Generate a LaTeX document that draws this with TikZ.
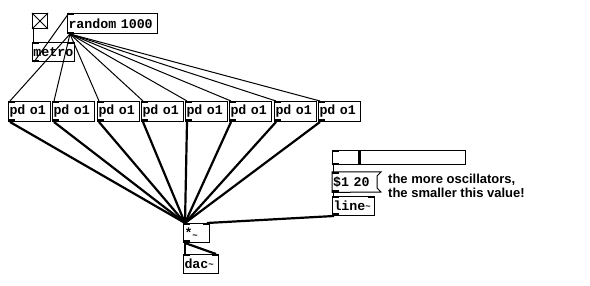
\documentclass[tikz,border=0pt]{standalone}
\usepackage{fontspec}
\newfontfamily\pdfont{Liberation Mono}
\newfontfamily\cmtfont{Liberation Sans}
\begin{document}
\begin{tikzpicture}[x=1pt, y=-1pt,
  obj/.style={draw, line width=1pt, rectangle, anchor=north west,
    minimum height=20pt, inner xsep=1pt, inner ysep=0pt, align=left,
    font=\pdfont\bfseries\fontsize{13.3}{13.3}\selectfont},
  ctl/.style={line width=1pt},
  sig/.style={line width=2.2pt},
  port/.style={fill=black}]
\useasboundingbox[fill=white] (0,0) rectangle (590,286);

% toggle
\node[draw, line width=1pt, minimum width=15pt, minimum height=15pt,
  anchor=north west, inner sep=0pt] (tg) at (32,13) {};
\draw[line width=0.8pt] (tg.north west) -- (tg.south east)
  (tg.north east) -- (tg.south west);

% control objects
\node[obj, text width=88pt] (rnd) at (67,13) {random 1000};
\node[obj, text width=40pt, minimum height=19pt] (metro) at (32,42) {metro};

% oscillator subpatches
\foreach \i/\x in {1/8,2/52,3/97,4/141,5/185,6/229,7/274,8/318}
  \node[obj, text width=40pt] (p\i) at (\x,101) {pd o1};

% signal chain
\node[obj, text width=24pt, minimum height=19pt] (mul) at (183,223) {*\raisebox{-1pt}{\fontsize{9}{9}\selectfont\textasciitilde}};
\node[obj, text width=33pt, minimum height=19pt] (dac) at (183,254) {dac\raisebox{1pt}{\fontsize{9}{9}\selectfont\textasciitilde}};

% horizontal slider
\node[draw, line width=1pt, minimum width=133pt, minimum height=14pt,
  anchor=north west, inner sep=0pt] (hsl) at (332,150) {};
\draw[line width=3pt] ([xshift=27pt]hsl.north west) -- ([xshift=27pt]hsl.south west);

% message box with flag edge
\node[anchor=north west, minimum width=45pt, minimum height=20pt,
  inner xsep=1pt, inner ysep=0pt, align=left, text width=43pt,
  font=\pdfont\bfseries\fontsize{13.3}{13.3}\selectfont] (msg) at (332,172) {\$1 20};
\draw[line width=1pt] (msg.north west) -- ++(49,0) -- ++(-4,4) -- ++(0,12)
  -- ++(4,4) -- (msg.south west) -- cycle;

\node[obj, text width=40pt, minimum height=19pt] (line) at (332,196) {line\raisebox{1pt}{\fontsize{9}{9}\selectfont\textasciitilde}};

% comment
\node[anchor=north west, inner sep=0pt, align=left,
  font=\cmtfont\bfseries\fontsize{13}{14}\selectfont] (cmt) at (388,174)
  {the more oscillators,\\the smaller this value!};

% inlets and outlets
\foreach \n in {rnd,metro,mul,dac,line,msg,hsl,p1,p2,p3,p4,p5,p6,p7,p8}
  \fill[port] (\n.north west) rectangle ++(7,2);
\foreach \n in {metro,mul,dac,line}
  \fill[port] (\n.north east) rectangle ++(-7,2);
\foreach \n in {rnd,metro,msg,hsl}
  \fill[port] (\n.south west) rectangle ++(7,-2);
\foreach \n in {mul,line,p1,p2,p3,p4,p5,p6,p7,p8}
  \fill[port] (\n.south west) rectangle ++(7,-3);

% control connections
\draw[ctl] ([xshift=1pt]tg.south west) -- ([xshift=1pt]metro.north west);
\draw[ctl] ([xshift=2pt]metro.south west) -- ([xshift=2pt]rnd.north west);
\foreach \i in {1,...,8}
  \draw[ctl] ([xshift=3pt]rnd.south west) -- ([xshift=2pt]p\i.north west);
\draw[ctl] ([xshift=1pt]hsl.south west) -- ([xshift=1pt]msg.north west);
\draw[ctl] ([xshift=1pt]msg.south west) -- ([xshift=1pt]line.north west);

% signal connections
\foreach \i in {1,...,8}
  \draw[sig] ([xshift=2pt]p\i.south west) -- ([xshift=2pt]mul.north west);
\draw[sig] ([xshift=2pt]line.south west) -- ([xshift=-3pt]mul.north east);
\draw[sig] ([xshift=2pt]mul.south west) -- ([xshift=2pt]dac.north west);
\draw[sig] ([xshift=2pt]mul.south west) -- ([xshift=-3pt]dac.north east);
\end{tikzpicture}
\end{document}
